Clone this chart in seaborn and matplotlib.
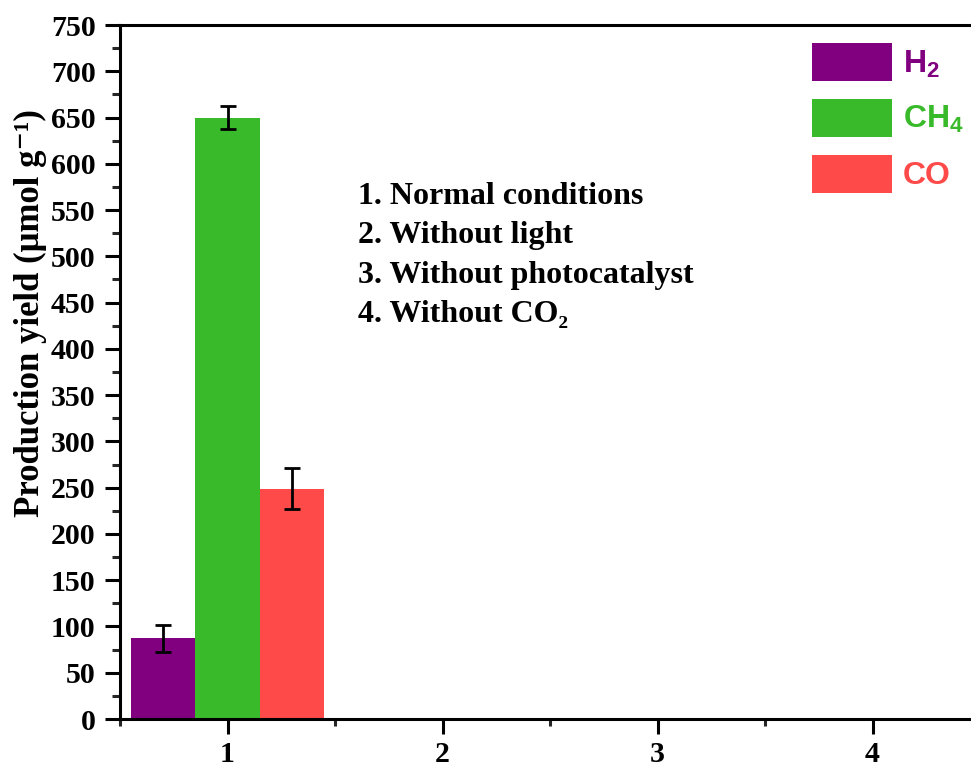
import matplotlib
matplotlib.use("Agg")
import matplotlib.pyplot as plt
from matplotlib.patches import Patch
from matplotlib.ticker import MultipleLocator, FixedLocator
import numpy as np
import pandas as pd
import seaborn as sns

# ---- data ----
conditions = ["1", "2", "3", "4"]
gases = ["H2", "CH4", "CO"]
gas_labels = [r"H$_2$", r"CH$_4$", "CO"]
h2_yield = [87, 0, 0, 0]
ch4_yield = [650, 0, 0, 0]
co_yield = [249, 0, 0, 0]
h2_err = [15, 0, 0, 0]
ch4_err = [12, 0, 0, 0]
co_err = [22, 0, 0, 0]
colors = ["#800080", "#39BA2A", "#FF4A4A"]
notes = ["1. Normal conditions", "2. Without light",
         "3. Without photocatalyst", "4. Without CO₂"]
ylabel = "Production yield (μmol g⁻¹)"

yields = [h2_yield, ch4_yield, co_yield]
errs = [h2_err, ch4_err, co_err]
df = pd.DataFrame({
    "condition": np.tile(conditions, len(gases)),
    "gas": np.repeat(gases, len(conditions)),
    "yield": np.concatenate(yields),
})

sns.set_style("ticks")
serif = ["Liberation Serif", "DejaVu Serif"]
sans = ["Liberation Sans", "DejaVu Sans"]
plt.rcParams["font.family"] = serif
plt.rcParams["font.weight"] = "bold"
plt.rcParams["text.color"] = "black"
plt.rcParams["axes.labelcolor"] = "black"
plt.rcParams["mathtext.fontset"] = "custom"
plt.rcParams["mathtext.rm"] = "Liberation Sans:bold"
plt.rcParams["mathtext.it"] = "Liberation Sans:bold"
plt.rcParams["mathtext.bf"] = "Liberation Sans:bold"

fig = plt.figure(figsize=(9.71, 7.71), dpi=100)
ax = fig.add_axes([120 / 971, 52 / 771, 860 / 971, 694 / 771])

sns.barplot(data=df, x="condition", y="yield", hue="gas", hue_order=gases,
            palette=colors, width=0.9, saturation=1, ax=ax, legend=False,
            errorbar=None, edgecolor="none", linewidth=0)

for cont, err in zip(ax.containers, errs):
    for bar, e in zip(cont, err):
        if e > 0:
            ax.errorbar(bar.get_x() + bar.get_width() / 2, bar.get_height(),
                        yerr=e, fmt="none", ecolor="black", elinewidth=2,
                        capsize=6, capthick=2, zorder=5)

ax.set_xlim(-0.5, 3.5)
ax.set_ylim(0, 750)
ax.yaxis.set_major_locator(MultipleLocator(50))
ax.yaxis.set_minor_locator(MultipleLocator(25))
ax.xaxis.set_minor_locator(FixedLocator([-0.5, 0.5, 1.5, 2.5, 3.5]))
ax.set_xlabel("")
ax.set_ylabel("")

for side in ["top", "bottom", "left", "right"]:
    ax.spines[side].set_linewidth(2.2)
    ax.spines[side].set_color("black")
ax.tick_params(axis="both", which="major", direction="out", length=10.5, width=2.2,
               labelsize=21.5, pad=7, colors="black")
ax.tick_params(axis="y", which="minor", direction="out", length=6, width=2.2)
ax.tick_params(axis="x", which="minor", direction="out", length=5, width=2.2)
ax.tick_params(axis="x", which="major", pad=5)
for lab in ax.get_xticklabels() + ax.get_yticklabels():
    lab.set_fontweight("bold")
    lab.set_family(serif)

fig.text(30 / 971, 1 - 313 / 771, ylabel, rotation=90, ha="center", va="center",
         fontsize=25, fontweight="bold", family=serif, color="black")

handles = [Patch(facecolor=c, edgecolor="none") for c in colors]
leg = ax.legend(handles, gas_labels, loc="upper left",
                bbox_to_anchor=(812 / 971, 1 - 43 / 771),
                bbox_transform=fig.transFigure, frameon=False,
                prop={"family": sans, "weight": "bold", "size": 23},
                handlelength=2.5, handleheight=1.45, handletextpad=0.35,
                labelspacing=0.56, borderpad=0, borderaxespad=0)
for t, c in zip(leg.get_texts(), colors):
    t.set_color(c)

for i, line in enumerate(notes):
    fig.text(358 / 971, 1 - (197 + 39 * i) / 771, line, fontsize=23,
             fontweight="bold", family=serif, va="center", ha="left",
             color="black")

fig.savefig("out.png", dpi=100)
